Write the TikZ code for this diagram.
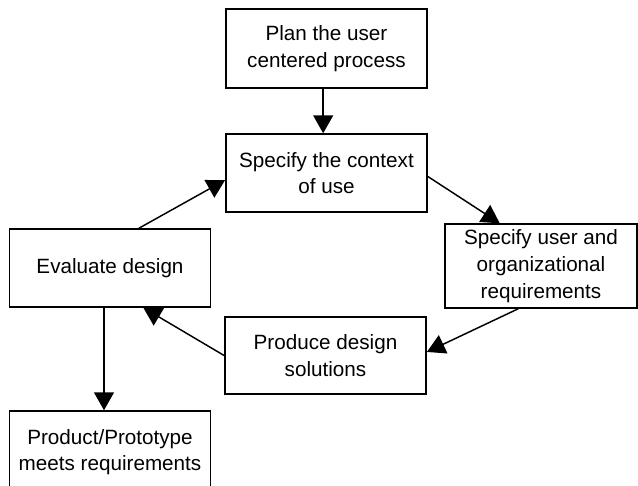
\documentclass[tikz,border=0pt]{standalone}
\usepackage{fontspec}
\setmainfont{Liberation Sans}
\usepackage{tikz}
\usetikzlibrary{arrows.meta}

\begin{document}
\begin{tikzpicture}[x=0.75pt,y=-0.75pt,>={Triangle[length=13.5pt,width=15pt]}]
    \tikzset{box/.style={draw,line width=1.1pt,align=center,inner sep=2pt,
        minimum width=151pt,minimum height=59pt,
        font=\fontsize{15.5}{20}\selectfont}}
    \useasboundingbox (0,0) rectangle (638,485);
    % Nodes
    \node (plan) [box] at (326.5,48.5) {Plan the user\\centered process};
    \node (context) [box, minimum height=58.5pt] at (326.5,173) {Specify the context\\of use};
    \node (req) [box, minimum width=144pt, minimum height=63pt] at (541,266) {Specify user and\\organizational\\requirements};
    \node (produce) [box, minimum height=57.75pt] at (325.5,355.5) {Produce design\\solutions};
    \node (evaluate) [box, minimum height=58.5pt] at (110,268) {Evaluate design};
    \node (product) [box, minimum height=61.5pt] at (110,452) {Product/Prototype\\meets requirements};

    % Arrows
    \draw [->, line width=1.1pt] ([xshift=-2.5pt]plan.south) to ([xshift=-2.5pt]context.north);
    \draw [->, line width=1.1pt] (evaluate.54) to (context.184);
    \draw [->, line width=1.1pt] (context.-2) to (req.134);
    \draw [->, line width=1.1pt] (req.242) to (produce.2);
    \draw [->, line width=1.1pt] (produce.180) to (evaluate.-50);
    \draw [->, line width=1.1pt] ([xshift=-4.5pt]evaluate.south) to ([xshift=-4.5pt]product.north);
\end{tikzpicture}
\end{document}
